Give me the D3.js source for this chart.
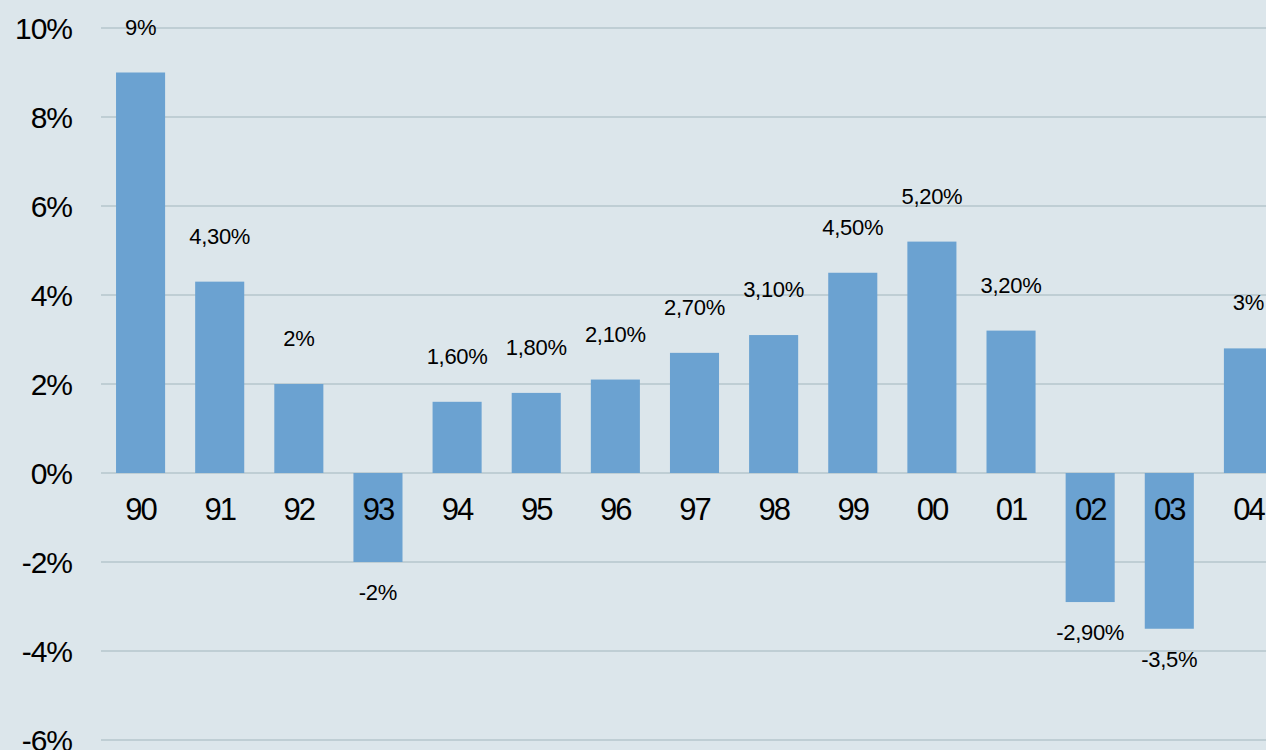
<!DOCTYPE html>
<html>
<head>
<meta charset="utf-8">
<script src="https://cdn.jsdelivr.net/npm/d3@7"></script>
<style>
  html, body { margin: 0; padding: 0; background: #dce6eb; }
  svg { display: block; font-family: "Liberation Sans", Arial, sans-serif; }
</style>
</head>
<body>
<div id="chart"></div>
<script>
// data
var years = ["90", "91", "92", "93", "94", "95", "96", "97", "98", "99", "00", "01", "02", "03", "04"];
var growth = [9, 4.3, 2, -2, 1.6, 1.8, 2.1, 2.7, 3.1, 4.5, 5.2, 3.2, -2.9, -3.5, 2.8];
var growthLabels = ["9%", "4,30%", "2%", "-2%", "1,60%", "1,80%", "2,10%", "2,70%", "3,10%", "4,50%", "5,20%", "3,20%", "-2,90%", "-3,5%", "3%"];
var yTicks = [-6, -4, -2, 0, 2, 4, 6, 8, 10];

var svgWidth = 1266;
var svgHeight = 750;

var svg = d3.select("#chart")
  .append("svg")
  .attr("width", svgWidth)
  .attr("height", svgHeight);

// scales - band runs past the right edge, last bar is clipped
var x = d3.scaleBand()
  .domain(years)
  .range([101, 1288])
  .paddingInner(0.38)
  .paddingOuter(0.19);

var y = d3.scaleLinear()
  .domain([-6, 10])
  .range([740, 28]);

// gridlines
svg.append("g")
  .selectAll("line")
  .data(yTicks)
  .join("line")
  .attr("x1", 101)
  .attr("x2", svgWidth)
  .attr("y1", d => y(d))
  .attr("y2", d => y(d))
  .attr("stroke", "#b6c6cd")
  .attr("stroke-width", 1.3);

// y axis labels
svg.append("g")
  .selectAll("text")
  .data(yTicks)
  .join("text")
  .attr("x", 72)
  .attr("y", d => y(d))
  .attr("dy", "0.36em")
  .attr("text-anchor", "end")
  .style("font-size", "30px")
  .style("letter-spacing", "-1px")
  .attr("fill", "#000")
  .text(d => d + "%");

// bars
svg.append("g")
  .selectAll("rect")
  .data(growth)
  .join("rect")
  .attr("x", (d, i) => x(years[i]))
  .attr("width", x.bandwidth())
  .attr("y", d => y(Math.max(0, d)))
  .attr("height", d => Math.abs(y(d) - y(0)))
  .attr("fill", "#6ba2d1");

// value labels
svg.append("g")
  .selectAll("text")
  .data(growth)
  .join("text")
  .attr("x", (d, i) => x(years[i]) + x.bandwidth() / 2)
  .attr("y", d => d >= 0 ? y(d) - 38 : y(d) + 38)
  .attr("text-anchor", "middle")
  .style("font-size", "22px")
  .style("letter-spacing", "-0.3px")
  .attr("fill", "#000")
  .text((d, i) => growthLabels[i]);

// category labels
svg.append("g")
  .selectAll("text")
  .data(years)
  .join("text")
  .attr("x", d => x(d) + x.bandwidth() / 2)
  .attr("y", 520)
  .attr("text-anchor", "middle")
  .style("font-size", "31px")
  .style("letter-spacing", "-2px")
  .attr("fill", "#000")
  .text(d => d);
</script>
</body>
</html>
